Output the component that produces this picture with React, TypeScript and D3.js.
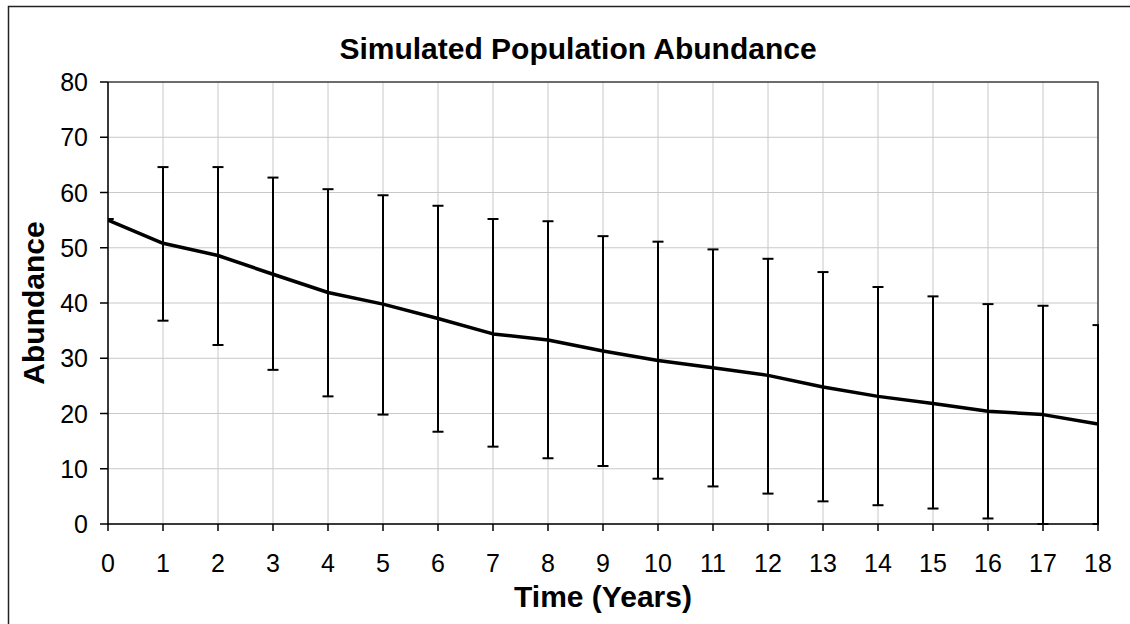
import React from "react";
import * as d3 from "d3";

// Simulated population: mean abundance per year with upper/lower bounds
const years = [0, 1, 2, 3, 4, 5, 6, 7, 8, 9, 10, 11, 12, 13, 14, 15, 16, 17, 18];
const meanAbundance = [55.0, 50.8, 48.6, 45.2, 41.9, 39.8, 37.2, 34.4, 33.3, 31.3, 29.6, 28.3, 26.9, 24.8, 23.1, 21.8, 20.4, 19.8, 18.1];
const upperBound = [55.2, 64.6, 64.6, 62.7, 60.6, 59.5, 57.6, 55.2, 54.8, 52.1, 51.1, 49.7, 48.0, 45.6, 42.9, 41.2, 39.8, 39.5, 36.0];
const lowerBound = [55.2, 36.8, 32.4, 27.9, 23.1, 19.8, 16.7, 14.0, 11.9, 10.5, 8.2, 6.8, 5.5, 4.1, 3.4, 2.8, 1.0, 0.0, 0.0];
const yTicks = [0, 10, 20, 30, 40, 50, 60, 70, 80];

const W = 1130;
const H = 624;
const plot = { left: 108, right: 1098, top: 82, bottom: 524 };
const FONT = "'Liberation Sans', Arial, Helvetica, sans-serif";

export default function App() {
  const x = d3.scaleLinear().domain([0, 18]).range([plot.left, plot.right]);
  const y = d3.scaleLinear().domain([0, 80]).range([plot.bottom, plot.top]);

  const line = d3
    .line<number>()
    .x((_, i) => x(years[i]))
    .y((d) => y(d));

  const capHalf = 5.5;

  return (
    <svg
      width={W}
      height={H}
      viewBox={`0 0 ${W} ${H}`}
      style={{ position: "absolute", left: 0, top: 0, background: "#fff" }}
      fontFamily={FONT}
    >
      <defs>
        <clipPath id="plotClip">
          <rect x={plot.left} y={plot.top - 2} width={plot.right - plot.left + 1} height={plot.bottom - plot.top + 4} />
        </clipPath>
      </defs>

      {/* chart frame */}
      <rect x={0} y={0} width={W} height={H} fill="#fff" />
      <path d={`M8.5,${H} V6.5 H${W}`} fill="none" stroke="#222" strokeWidth={1.5} />

      {/* title */}
      <text x={578} y={59} textAnchor="middle" fontSize={30} fontWeight="bold" fill="#000">
        Simulated Population Abundance
      </text>

      {/* grid */}
      <g stroke="#c8c8c8" strokeWidth={1}>
        {years.map((t) => (
          <line key={"gx" + t} x1={x(t)} x2={x(t)} y1={plot.top} y2={plot.bottom} />
        ))}
        {yTicks.map((v) => (
          <line key={"gy" + v} x1={plot.left} x2={plot.right} y1={y(v)} y2={y(v)} />
        ))}
      </g>

      {/* plot border top/right */}
      <path
        d={`M${plot.left},${plot.top} H${plot.right} V${plot.bottom}`}
        fill="none"
        stroke="#444"
        strokeWidth={1.5}
      />

      {/* axes */}
      <g stroke="#000" strokeWidth={1.5}>
        <line x1={plot.left} x2={plot.left} y1={plot.top} y2={plot.bottom} />
        <line x1={plot.left} x2={plot.right} y1={plot.bottom} y2={plot.bottom} />
        {yTicks.map((v) => (
          <line key={"ty" + v} x1={plot.left - 8} x2={plot.left} y1={y(v)} y2={y(v)} />
        ))}
        {years.map((t) => (
          <line key={"tx" + t} x1={x(t)} x2={x(t)} y1={plot.bottom} y2={plot.bottom + 7} />
        ))}
      </g>

      {/* tick labels */}
      <g fontSize={25} fill="#000">
        {yTicks.map((v) => (
          <text key={"ly" + v} x={88} y={y(v)} dy="0.36em" textAnchor="end">
            {v}
          </text>
        ))}
        {years.map((t) => (
          <text key={"lx" + t} x={x(t)} y={572} textAnchor="middle">
            {t}
          </text>
        ))}
      </g>

      {/* axis titles */}
      <text x={603} y={607} textAnchor="middle" fontSize={30} fontWeight="bold" fill="#000">
        Time (Years)
      </text>
      <text
        transform={`translate(44,${(plot.top + plot.bottom) / 2}) rotate(-90)`}
        textAnchor="middle"
        fontSize={30}
        fontWeight="bold"
        fill="#000"
      >
        Abundance
      </text>

      {/* error bars and mean line */}
      <g clipPath="url(#plotClip)">
        <g stroke="#000" strokeWidth={2}>
          {years.map((t, i) => (
            <g key={"eb" + t}>
              <line x1={x(t)} x2={x(t)} y1={y(lowerBound[i])} y2={y(upperBound[i])} />
              <line x1={x(t) - capHalf} x2={x(t) + capHalf} y1={y(upperBound[i])} y2={y(upperBound[i])} />
              <line x1={x(t) - capHalf} x2={x(t) + capHalf} y1={y(lowerBound[i])} y2={y(lowerBound[i])} />
            </g>
          ))}
        </g>
        <path d={line(meanAbundance) || ""} fill="none" stroke="#000" strokeWidth={3.5} strokeLinejoin="round" />
      </g>
    </svg>
  );
}
